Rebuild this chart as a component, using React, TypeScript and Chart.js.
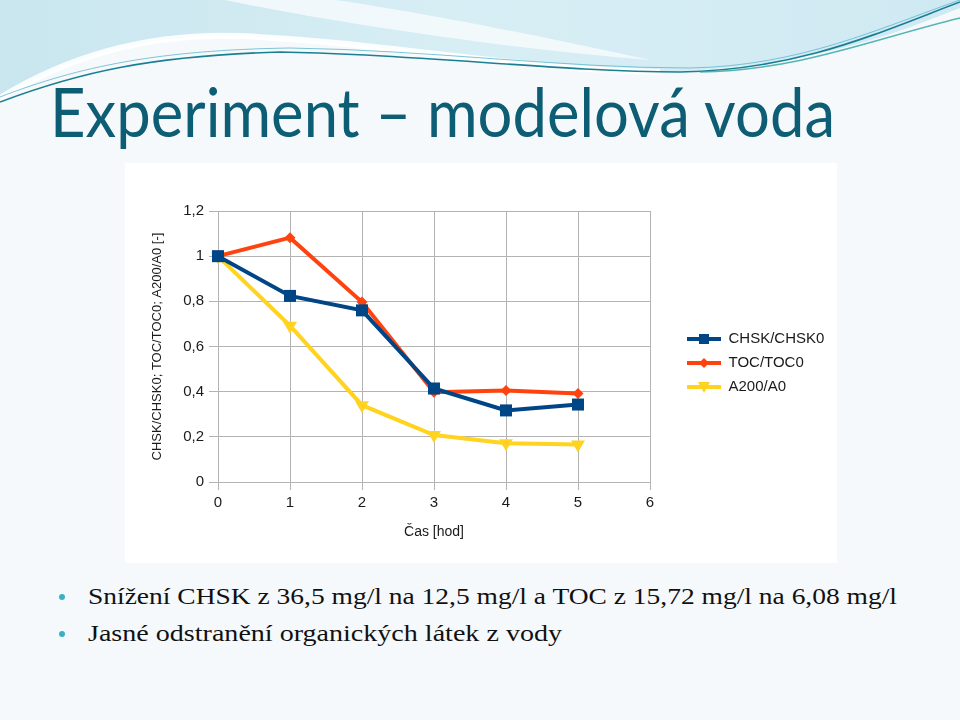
import React, { useEffect, useLayoutEffect, useRef } from "react";
import { Chart, registerables } from "chart.js";

Chart.register(...registerables);

// ---- data ----
const hours = [0, 1, 2, 3, 4, 5];
const chsk = [1, 0.824, 0.76, 0.414, 0.317, 0.343];
const toc = [1, 1.082, 0.797, 0.397, 0.405, 0.392];
const a200 = [1, 0.692, 0.34, 0.208, 0.172, 0.166];
const seriesNames = ["CHSK/CHSK0", "TOC/TOC0", "A200/A0"];
const seriesColors = ["#004586", "#ff420e", "#ffd320"];
const xTitle = "Čas [hod]";
const yTitle = "CHSK/CHSK0; TOC/TOC0; A200/A0 [-]";
const slideTitle = "Experiment – modelová voda";
const bullets = [
  "Snížení CHSK z 36,5 mg/l na 12,5 mg/l a TOC z 15,72 mg/l na 6,08 mg/l",
  "Jasné odstranění organických látek z vody",
];

const FONT = "'Liberation Sans', Arial, sans-serif";
const GRID = "#b3b3b3";
const TEXT = "#1a1a1a";

function legendIcon(color: string, shape: string): HTMLCanvasElement {
  const c = document.createElement("canvas");
  c.width = 62;
  c.height = 16;
  const g = c.getContext("2d")!;
  g.strokeStyle = color;
  g.fillStyle = color;
  g.lineWidth = 4;
  g.beginPath();
  g.moveTo(28, 8);
  g.lineTo(62, 8);
  g.stroke();
  const cx = 45;
  const cy = 8;
  g.beginPath();
  if (shape === "rect") {
    g.rect(cx - 5, cy - 5, 10, 10);
  } else if (shape === "diamond") {
    g.moveTo(cx, cy - 5);
    g.lineTo(cx + 5, cy);
    g.lineTo(cx, cy + 5);
    g.lineTo(cx - 5, cy);
    g.closePath();
  } else {
    g.moveTo(cx - 6, cy - 5);
    g.lineTo(cx + 6, cy - 5);
    g.lineTo(cx, cy + 6);
    g.closePath();
  }
  g.fill();
  return c;
}

function FitText(props: { text: string; left: number; top: number; width: number; style: React.CSSProperties }) {
  const ref = useRef<HTMLSpanElement>(null);
  useLayoutEffect(() => {
    const fit = () => {
      const el = ref.current;
      if (!el) return;
      el.style.transform = "none";
      const w = el.getBoundingClientRect().width;
      if (w > 0) el.style.transform = `scaleX(${props.width / w})`;
    };
    fit();
    if ((document as any).fonts && (document as any).fonts.ready) (document as any).fonts.ready.then(fit);
  });
  return (
    <span
      ref={ref}
      style={{
        position: "absolute",
        left: props.left,
        top: props.top,
        whiteSpace: "nowrap",
        transformOrigin: "0 0",
        display: "inline-block",
        ...props.style,
      }}
    >
      {props.text}
    </span>
  );
}

function ChartBox() {
  const canvasRef = useRef<HTMLCanvasElement>(null);
  useEffect(() => {
    const canvas = canvasRef.current;
    if (!canvas) return;
    const shapes = ["rect", "diamond", "tri"];
    const icons = seriesColors.map((c, i) => legendIcon(c, shapes[i]));
    const series = [chsk, toc, a200];
    const pointStyles: any[] = ["rect", "rectRot", "triangle"];
    const radii = [8.5, 5.5, 8];
    const rotations = [0, 0, 180];
    const chart = new Chart(canvas, {
      type: "line",
      data: {
        datasets: series.map((vals, i) => ({
          label: seriesNames[i],
          data: hours.map((h, j) => ({ x: h, y: vals[j] })),
          borderColor: seriesColors[i],
          backgroundColor: seriesColors[i],
          borderWidth: 4,
          tension: 0,
          pointStyle: pointStyles[i],
          pointRadius: radii[i],
          pointRotation: rotations[i],
          pointBorderWidth: 0,
          pointBackgroundColor: seriesColors[i],
          clip: false as any,
        })),
      },
      options: {
        responsive: false,
        animation: false,
        layout: { padding: { left: 0, top: 0, right: 12, bottom: 0 } },
        plugins: {
          tooltip: { enabled: false },
          legend: {
            position: "right",
            labels: {
              usePointStyle: true,
              pointStyleWidth: 62,
              padding: 9,
              color: TEXT,
              font: { family: FONT, size: 15 },
              generateLabels: (ch: any) => {
                const items = (Chart.defaults.plugins.legend.labels as any).generateLabels(ch);
                return items.map((it: any, i: number) => ({ ...it, pointStyle: icons[i], rotation: 0 }));
              },
            },
          },
        },
        scales: {
          x: {
            type: "linear",
            min: 0,
            max: 6,
            ticks: { stepSize: 1, color: TEXT, font: { family: FONT, size: 15 }, padding: 4 },
            grid: { color: GRID, tickLength: 8 },
            border: { color: GRID },
            title: {
              display: true,
              text: xTitle,
              color: TEXT,
              font: { family: FONT, size: 14 },
              padding: { top: 0, bottom: 22 },
            },
            afterFit: (s: any) => {
              s.height = 81;
            },
          },
          y: {
            type: "linear",
            min: 0,
            max: 1.2,
            ticks: {
              stepSize: 0.2,
              color: TEXT,
              font: { family: FONT, size: 15 },
              padding: 5,
              callback: (v: any) => String(Number(Number(v).toFixed(1))).replace(".", ","),
            },
            grid: { color: GRID, tickLength: 9 },
            border: { color: GRID },
            title: {
              display: true,
              text: yTitle,
              color: TEXT,
              font: { family: FONT, size: 13 },
              padding: { top: 25, bottom: 0 },
            },
            afterFit: (s: any) => {
              s.width = 93;
              s.paddingTop = 48;
            },
          },
        },
      } as any,
    });
    return () => chart.destroy();
  }, []);
  return (
    <canvas
      ref={canvasRef}
      width={712}
      height={400}
      style={{ position: "absolute", left: 125, top: 163, width: 712, height: 400, background: "#ffffff" }}
    />
  );
}

export default function App() {
  return (
    <div
      style={{
        position: "absolute",
        left: 0,
        top: 0,
        width: 960,
        height: 720,
        overflow: "hidden",
        background: "#f6f9fb",
      }}
    >
      <svg width={960} height={720} style={{ position: "absolute", left: 0, top: 0 }}>
        <defs>
          <linearGradient id="sky" x1="0" y1="0" x2="1" y2="0">
            <stop offset="0" stopColor="#c9e6ef" />
            <stop offset="0.5" stopColor="#d8eef5" />
            <stop offset="1" stopColor="#cfe9f2" />
          </linearGradient>
        </defs>
        <path
          d="M0,0 H960 V8 C880,40 800,68 660,72 C520,70 380,42 240,36 C150,33 70,55 0,98 Z"
          fill="url(#sky)"
        />
        <path d="M225,0 C330,22 500,48 650,60 C540,36 420,12 335,0 Z" fill="#f4fafc" opacity="0.9" />
        <path d="M0,98 C70,55 150,33 240,36 C380,42 520,70 660,72" fill="none" stroke="#ffffff" strokeWidth="6" opacity="0.9" />
        <path
          d="M0,102 C80,72 150,56 280,52 C420,54 560,72 680,72 C800,70 880,32 960,2"
          fill="none"
          stroke="#1b7f94"
          strokeWidth="1.6"
        />
        <path
          d="M0,97 C80,66 160,50 290,48 C430,50 560,68 690,68 C800,66 880,28 960,0"
          fill="none"
          stroke="#5fb8cc"
          strokeWidth="1"
          opacity="0.8"
        />
        <path
          d="M700,72 C800,70 870,40 960,18"
          fill="none"
          stroke="#2aa5a0"
          strokeWidth="1.5"
          opacity="0.8"
        />
        <circle cx={62} cy={597} r={3} fill="#3ab0c8" />
        <circle cx={62} cy={634} r={3} fill="#3ab0c8" />
      </svg>
      <FitText
        text={slideTitle}
        left={50}
        top={77}
        width={785}
        style={{ fontFamily: "Lato, 'Open Sans', sans-serif", fontSize: 68, lineHeight: "68px", color: "#0d5d74" }}
      />
      <ChartBox />
      <FitText
        text={bullets[0]}
        left={88}
        top={584}
        width={809}
        style={{ fontFamily: "'Liberation Serif', serif", fontSize: 24, lineHeight: "24px", color: "#111111" }}
      />
      <FitText
        text={bullets[1]}
        left={88}
        top={621}
        width={474}
        style={{ fontFamily: "'Liberation Serif', serif", fontSize: 24, lineHeight: "24px", color: "#111111" }}
      />
    </div>
  );
}
